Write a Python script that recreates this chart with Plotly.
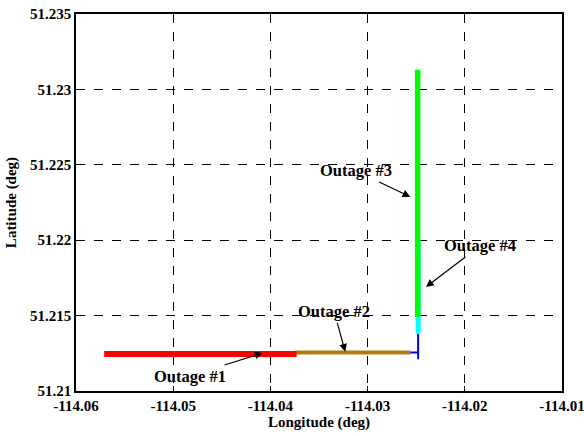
import plotly.graph_objects as go

# Trajectory segments (longitude, latitude)
brown_lon = [-114.0375, -114.0256]
brown_lat = [51.21255, 51.21255]
red_lon = [-114.0571, -114.0373]
red_lat = [51.21245, 51.21245]
blue_lon = [-114.0256, -114.0248, -114.0248, -114.0248]
blue_lat = [51.21255, 51.21255, 51.2121, 51.2138]
cyan_lon = [-114.0248, -114.0248]
cyan_lat = [51.2138, 51.2200]
green_lon = [-114.02485, -114.02485]
green_lat = [51.2149, 51.2313]

x_ticks = [-114.06, -114.05, -114.04, -114.03, -114.02, -114.01]
y_ticks = [51.21, 51.215, 51.22, 51.225, 51.23, 51.235]
y_tick_text = ["51.21", "51.215", "51.22", "51.225", "51.23", "51.235"]

# annotation: label, arrow tip lon, lat, text offset px
ann_labels = ["Outage #1", "Outage #2", "Outage #3", "Outage #4"]
ann_lon = [-114.0408, -114.0323, -114.0256, -114.0240]
ann_lat = [51.21252, 51.2126, 51.22287, 51.2169]
ann_ax = [-73, -11, -54, 54]
ann_ay = [23, -40, -26, -41]

FAM = "Liberation Serif, Times New Roman, serif"

fig = go.Figure()
fig.add_trace(go.Scatter(x=brown_lon, y=brown_lat, mode="lines",
                         line=dict(color="#B07A0C", width=4)))
fig.add_trace(go.Scatter(x=red_lon, y=red_lat, mode="lines",
                         line=dict(color="#FF0000", width=6)))
fig.add_trace(go.Scatter(x=blue_lon, y=blue_lat, mode="lines",
                         line=dict(color="#0000EE", width=2)))
fig.add_trace(go.Scatter(x=cyan_lon, y=cyan_lat, mode="lines",
                         line=dict(color="#00FFFF", width=5)))
fig.add_trace(go.Scatter(x=green_lon, y=green_lat, mode="lines",
                         line=dict(color="#00FF00", width=5.5)))

font = dict(family=FAM, size=15, color="black")
ann_font = dict(family=FAM, size=16.5, color="black")
for lab, x, y, ax, ay in zip(ann_labels, ann_lon, ann_lat, ann_ax, ann_ay):
    fig.add_annotation(x=x, y=y, ax=ax, ay=ay, text="<b>%s</b>" % lab,
                       showarrow=True, arrowhead=2, arrowsize=1.3,
                       arrowwidth=1.2, arrowcolor="black", font=ann_font,
                       standoff=0)

axis_common = dict(showgrid=True, gridcolor="black", griddash="dash",
                   gridwidth=1, showline=True, linecolor="black",
                   linewidth=1.5, mirror=True, ticks="inside", ticklen=5,
                   tickcolor="black", zeroline=False, automargin=False,
                   ticklabeloverflow="allow",
                   tickfont=dict(family=FAM, size=15, color="black"))

fig.update_layout(
    width=584, height=436,
    margin=dict(l=76, r=22, t=14, b=45),
    paper_bgcolor="white", plot_bgcolor="white",
    showlegend=False,
    font=font,
    xaxis=dict(range=[-114.06, -114.01], tickvals=x_ticks,
               ticktext=["<b>%.2f</b>" % v for v in x_ticks],
               title=dict(text="<b>Longitude (deg)</b>", standoff=2,
                          font=font), **axis_common),
    yaxis=dict(range=[51.21, 51.235], tickvals=y_ticks,
               ticktext=["<b>%s</b>" % t for t in y_tick_text],
               title=dict(text="<b>Latitude (deg)</b>", standoff=10,
                          font=font), **axis_common),
)

fig.write_html("out.html", config={"displayModeBar": False},
               post_script="document.body.style.margin='0px';document.body.style.overflow='hidden';")
